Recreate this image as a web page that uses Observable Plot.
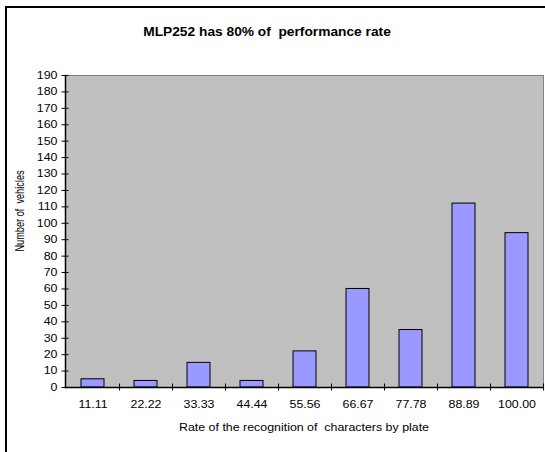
<!DOCTYPE html>
<html>
<head>
<meta charset="utf-8">
<script src="https://cdn.jsdelivr.net/npm/d3@7"></script>
<script src="https://cdn.jsdelivr.net/npm/@observablehq/plot@0.6"></script>
<style>
  html, body { margin: 0; padding: 0; background: #fff; }
  #wrap { position: relative; width: 545px; height: 452px; overflow: hidden; font-family: "Liberation Sans", Arial, sans-serif; }
  #border { position: absolute; left: 5px; top: 6px; width: 560px; height: 460px; border-left: 2px solid #000; border-top: 2px solid #000; box-sizing: border-box; }
  #title { position: absolute; left: 267px; top: 32px; transform: translate(-50%, -50%) scaleX(1.1); white-space: pre; font-weight: bold; font-size: 12.5px; color: #000; }
  #xlabel { position: absolute; left: 304px; top: 427px; transform: translate(-50%, -50%) scaleX(1.18); white-space: pre; font-size: 10.5px; color: #000; }
  #ylabel { position: absolute; left: 20px; top: 211px; transform: translate(-50%, -50%) scaleX(1.35) rotate(-90deg); white-space: pre; font-size: 9.2px; color: #000; }
  #chart { position: absolute; left: 0; top: 0; }
</style>
</head>
<body>
<div id="wrap">
  <div id="border"></div>
  <div id="chart"></div>
  <div id="title">MLP252 has 80% of  performance rate</div>
  <div id="xlabel">Rate of the recognition of  characters by plate</div>
  <div id="ylabel">Number of  vehicles</div>
</div>
<script>
const categories = ["11.11", "22.22", "33.33", "44.44", "55.56", "66.67", "77.78", "88.89", "100.00"];
const vehicles = [5, 4, 15, 4, 22, 60, 35, 112, 94];
const yTicks = [0, 10, 20, 30, 40, 50, 60, 70, 80, 90, 100, 110, 120, 130, 140, 150, 160, 170, 180, 190];

const data = categories.map((c, i) => ({cat: c, n: vehicles[i]}));

const W = 545, H = 452, mL = 65, mR = 2, mT = 75, mB = 65;
const step = (W - mL - mR) / categories.length;

const chart = Plot.plot({
  width: W,
  height: H,
  marginLeft: mL,
  marginRight: mR,
  marginTop: mT,
  marginBottom: mB,
  style: {fontFamily: "'Liberation Sans', Arial, sans-serif", fontSize: "10.5px", background: "transparent", color: "#000"},
  x: {type: "band", domain: categories, paddingInner: 0.57, paddingOuter: 0.285, axis: null},
  y: {domain: [0, 190], axis: null},
  marks: [
    Plot.frame({fill: "#c0c0c0", stroke: "#808080"}),
    Plot.barY(data, {x: "cat", y: "n", fill: "#9999ff", stroke: "#000", strokeWidth: 1}),
    Plot.frame({anchor: "left", stroke: "#000", strokeWidth: 1.5}),
    Plot.ruleY([0], {stroke: "#000", strokeWidth: 1.5}),
    Plot.axisY(yTicks, {tickSize: 7, dx: 3.5, tickFormat: () => "", label: null, stroke: "#000"}),
    Plot.axisY(yTicks, {tickSize: 0, tickPadding: 8, label: null, fill: "#000"}),
    Plot.axisX(categories, {tickSize: 7, dx: step / 2, dy: -3.5, tickFormat: () => "", label: null, stroke: "#000"}),
    Plot.axisX(categories, {tickSize: 0, tickPadding: 13, label: null, fill: "#000"})
  ]
});
document.getElementById("chart").appendChild(chart);

// widen SVG tick labels horizontally, as in the (horizontally stretched) reference
const S = 1.18;
chart.querySelectorAll("text").forEach(t => {
  if (!t.textContent) return;
  const bb = t.getBBox();
  const anchor = getComputedStyle(t).textAnchor;
  let ax = anchor === "end" ? bb.x + bb.width : anchor === "start" ? bb.x : bb.x + bb.width / 2;
  const ay = bb.y + bb.height / 2;
  const tr = t.transform.baseVal.consolidate();
  if (tr) { const m = tr.matrix; ax = m.a * ax + m.c * ay + m.e; }
  const g = document.createElementNS("http://www.w3.org/2000/svg", "g");
  g.setAttribute("transform", `translate(${ax},0) scale(${S},1) translate(${-ax},0)`);
  t.parentNode.insertBefore(g, t);
  g.appendChild(t);
});
</script>
</body>
</html>
